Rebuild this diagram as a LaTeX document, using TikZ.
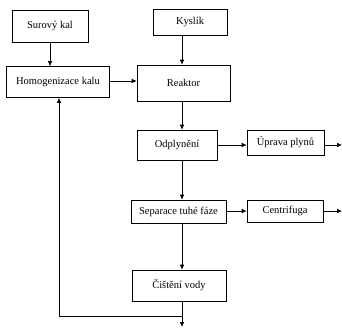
\documentclass[tikz,border=0pt]{standalone}
\usepackage{fontspec}
\setmainfont{Liberation Serif}
\usetikzlibrary{arrows.meta}
\begin{document}
\begin{tikzpicture}[x=1pt, y=-1pt, line width=0.6pt,
box/.style={draw, inner sep=0pt, font=\fontsize{10.5}{12}\selectfont},
arr/.style={-{Latex[length=5pt,width=4.5pt]}}]
\useasboundingbox (0,0) rectangle (342,327);
\node[box, minimum width=76pt, minimum height=32pt] (surovy) at (50,26) {Surový kal};
\node[box, minimum width=74pt, minimum height=26pt] (kyslik) at (190,22) {Kyslík};
\node[box, minimum width=103pt, minimum height=31pt] (homog) at (58,82) {Homogenizace kalu};
\node[box, minimum width=93pt, minimum height=36pt] (reaktor) at (183.5,83) {Reaktor};
\node[box, minimum width=80pt, minimum height=30pt] (odply) at (177,145) {Odplynění};
\node[box, minimum width=77pt, minimum height=25pt] (uprava) at (285.5,142.5) {Úprava plynů};
\node[box, minimum width=95pt, minimum height=23pt] (separace) at (178.5,211.5) {Separace tuhé fáze};
\node[box, minimum width=76pt, minimum height=22pt] (centri) at (285,211) {Centrifuga};
\node[box, minimum width=94pt, minimum height=31pt] (cisteni) at (179,285.5) {Čištění vody};
\coordinate (plyn) at (342,145);
\coordinate (kal) at (342,211);
\coordinate (voda) at (182,327);
\coordinate (spoj) at (182,316);
\coordinate (zpet) at (59,316);
\draw[arr] (surovy.south) -- (surovy.south |- homog.north);
\draw[arr] (182,0 |- kyslik.south) -- (182,0 |- reaktor.north);
\draw[arr] (homog.east |- 0,81) -- (reaktor.west |- 0,81);
\draw[arr] (182,0 |- reaktor.south) -- (182,0 |- odply.north);
\draw[arr] (odply.east |- plyn) -- (uprava.west |- plyn);
\draw[arr] (uprava.east |- plyn) -- (plyn);
\draw[arr] (182,0 |- odply.south) -- (182,0 |- separace.north);
\draw[arr] (separace.east |- kal) -- (centri.west |- kal);
\draw[arr] (centri.east |- kal) -- (kal);
\draw[arr] (182,0 |- separace.south) -- (182,0 |- cisteni.north);
\draw[arr] (182,0 |- cisteni.south) -- (voda);
\draw[arr] (spoj) -- (zpet) -- (zpet |- homog.south);
\end{tikzpicture}
\end{document}
